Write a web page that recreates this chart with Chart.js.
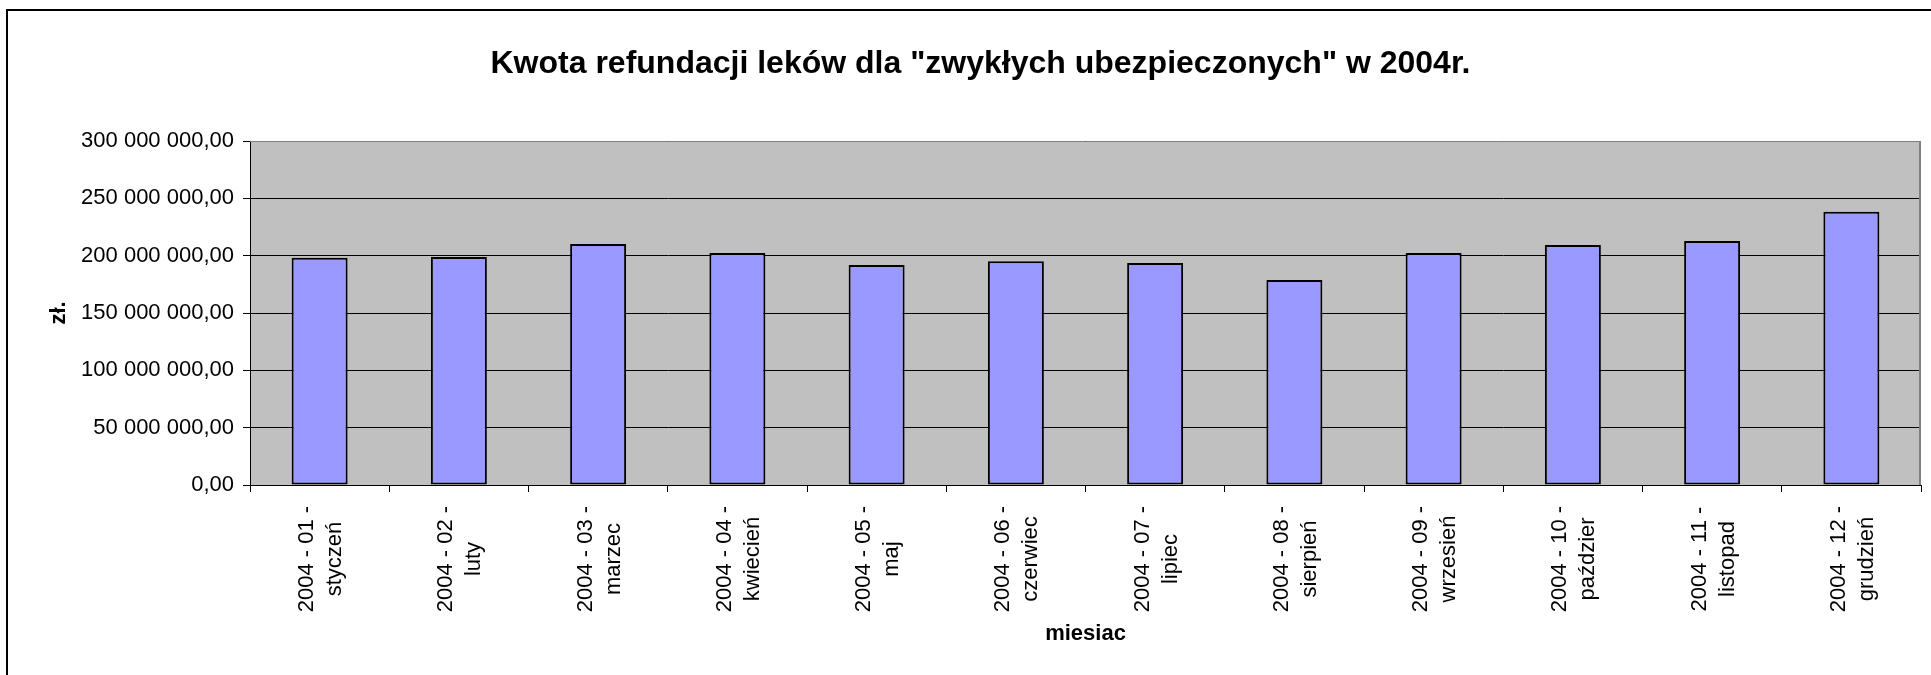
<!DOCTYPE html>
<html lang="pl">
<head>
<meta charset="utf-8">
<title>Kwota refundacji leków 2004</title>
<script src="https://cdn.jsdelivr.net/npm/chart.js@4.4.1/dist/chart.umd.min.js"></script>
<style>
  html, body { margin: 0; padding: 0; background: #fff; overflow: hidden; }
  #wrap { position: relative; width: 1931px; height: 675px; }
  #frame {
    position: absolute; left: 6px; top: 9px; right: -10px; bottom: -10px;
    border-top: 2px solid #000; border-left: 2px solid #000;
    pointer-events: none;
  }
</style>
</head>
<body>
<div id="wrap">
  <canvas id="chart"></canvas>
  <div id="frame"></div>
</div>
<script>
/* refundacja leków - wykres słupkowy */

const monthCodes = ["2004 - 01 -", "2004 - 02 -", "2004 - 03 -", "2004 - 04 -", "2004 - 05 -", "2004 - 06 -",
  "2004 - 07 -", "2004 - 08 -", "2004 - 09 -", "2004 - 10 -", "2004 - 11 -", "2004 - 12 -"];
const monthNames = ["styczeń", "luty", "marzec", "kwiecień", "maj", "czerwiec",
  "lipiec", "sierpień", "wrzesień", "paździer", "listopad", "grudzień"];
// kwota refundacji w zł
const refundValues = [198200000, 198800000, 210200000, 202300000, 191900000, 195100000,
  193600000, 178700000, 202300000, 209300000, 212800000, 238400000];
const yTickLabels = ["0,00", "50 000 000,00", "100 000 000,00", "150 000 000,00",
  "200 000 000,00", "250 000 000,00", "300 000 000,00"];

const chartTitle = 'Kwota refundacji leków dla "zwykłych ubezpieczonych" w 2004r.';
const xTitle = "miesiac";
const yTitle = "zł.";

const fontFamily = "'Liberation Sans', Arial, sans-serif";
Chart.defaults.font.family = fontFamily;
Chart.defaults.color = "#000";

const labels = monthCodes.map((code, i) => [code, monthNames[i]]);

// grey plot area with its frame
const plotAreaPlugin = {
  id: "plotArea",
  beforeDraw: chart => {
    const { ctx, chartArea: a } = chart;
    ctx.save();
    ctx.fillStyle = "#c0c0c0";
    ctx.fillRect(a.left, a.top, a.right - a.left, a.bottom - a.top);
    ctx.restore();
  },
  afterDatasetsDraw: chart => {
    const { ctx, chartArea: a } = chart;
    ctx.save();
    ctx.strokeStyle = "#808080";
    ctx.lineWidth = 1;
    ctx.beginPath();
    ctx.moveTo(a.left, a.top + 0.5);
    ctx.lineTo(a.right, a.top + 0.5);
    ctx.stroke();
    ctx.lineWidth = 2;
    ctx.beginPath();
    ctx.moveTo(a.right - 1, a.top);
    ctx.lineTo(a.right - 1, a.bottom);
    ctx.stroke();
    ctx.restore();
  }
};

// two-line rotated category labels, lines centred on each other
const xLabelsPlugin = {
  id: "xLabels",
  afterDraw: chart => {
    const ctx = chart.ctx;
    const xScale = chart.scales.x;
    const centerY = xScale.top + 74;
    ctx.save();
    ctx.font = "22px " + fontFamily;
    ctx.fillStyle = "#000";
    ctx.textAlign = "center";
    ctx.textBaseline = "alphabetic";
    chart.data.labels.forEach((lines, i) => {
      const cx = xScale.getPixelForValue(i);
      ctx.save();
      ctx.translate(cx, centerY);
      ctx.rotate(-Math.PI / 2);
      ctx.fillText(lines[0], 0, -6.5);
      ctx.fillText(lines[1], 0, 21.5);
      ctx.restore();
    });
    ctx.restore();
  }
};

const ctx = document.getElementById("chart").getContext("2d");
const chart = new Chart(ctx, {
  type: "bar",
  data: {
    labels: labels,
    datasets: [
      {
        label: "Kwota refundacji",
        data: refundValues,
        backgroundColor: "#9999ff",
        borderColor: "#000",
        borderWidth: 2,
        borderSkipped: false,
        barPercentage: 0.402,
        categoryPercentage: 1
      }
    ]
  },
  options: {
    responsive: true,
    maintainAspectRatio: false,
    animation: false,
    layout: {
      padding: { left: 40, right: 10, top: 0, bottom: 0 }
    },
    plugins: {
      legend: { display: false },
      tooltip: { enabled: false },
      title: {
        display: true,
        text: chartTitle,
        color: "#000",
        font: { size: 32, weight: "bold" },
        padding: { top: 44.8, bottom: 57.8 }
      }
    },
    scales: {
      x: {
        grid: {
          display: true,
          drawOnChartArea: false,
          drawTicks: true,
          tickLength: 7,
          color: "#000"
        },
        border: { display: true, color: "#000", width: 1 },
        ticks: { display: false },
        title: {
          display: true,
          text: xTitle,
          color: "#000",
          font: { size: 22, weight: "bold" },
          padding: { top: 0, bottom: 27.8 }
        },
        afterFit: scale => {
          scale.height = 190;
        }
      },
      y: {
        min: 0,
        max: 300000000,
        grid: {
          color: "#000",
          lineWidth: 1,
          tickLength: 7
        },
        border: { display: true, color: "#000", width: 1 },
        ticks: {
          stepSize: 50000000,
          padding: 9,
          color: "#000",
          font: { size: 22 },
          callback: (value, index) => yTickLabels[index]
        },
        title: {
          display: true,
          text: yTitle,
          color: "#000",
          font: { size: 22, weight: "bold" },
          padding: { top: 6, bottom: 0 }
        },
        afterFit: scale => {
          scale.width = 210;
        }
      }
    }
  },
  plugins: [plotAreaPlugin, xLabelsPlugin]
});
</script>
</body>
</html>
